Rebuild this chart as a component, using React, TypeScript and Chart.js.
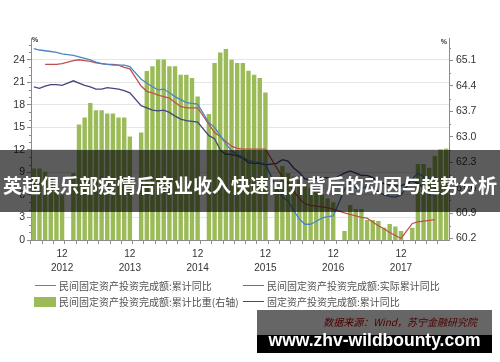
import React, { useEffect, useRef } from 'react';
import { Chart, registerables } from 'chart.js';

Chart.register(...registerables);

// Monthly categories, Jul 2012 – Aug 2018 (January has no release, so it stays empty)
const START_YEAR = 2012;
const START_MONTH = 7;
const MONTH_COUNT = 74;
const MONTHS: string[] = [];
for (let i = 0; i < MONTH_COUNT; i++) {
  const m = START_MONTH - 1 + i;
  MONTHS.push(`${START_YEAR + Math.floor(m / 12)}-${String((m % 12) + 1).padStart(2, '0')}`);
}

const LEFT_TICKS = [0, 3, 6, 9, 12, 15, 18, 21, 24];
const RIGHT_TICKS = [60.2, 60.9, 61.6, 62.3, 63.0, 63.7, 64.4, 65.1];

// 民间固定资产投资完成额:累计比重(右轴), %
const PRIVATE_SHARE = [
  62.13, 62.13, 62.04, 61.85, 61.6, 61.4,
  null, 62.0, 63.34, 63.53, 63.93, 63.73, 63.73, 63.64, 63.64, 63.53, 63.53, 63.01,
  null, 63.12, 64.81, 64.94, 65.13, 65.13, 64.94, 64.94, 64.71, 64.71, 64.62, 64.11,
  null, 63.63, 65.03, 65.32, 65.42, 65.12, 65.03, 65.03, 64.82, 64.71, 64.62, 64.22,
  null, 61.6, 62.2, 62.0, 61.9, 61.8, 61.7, 61.6, 61.5, 61.4, 61.3, 61.2,
  null, 60.41, 61.12, 61.01, 61.01, 60.71, 60.71, 60.68, 60.5, 60.6, 60.53, 60.41,
  null, 60.5, 62.25, 62.25, 62.15, 62.47, 62.66, 62.68,
];

// 民间固定资产投资完成额:累计同比, %
const PRIVATE_YOY = [
  25.5, 25.3, 25.2, 25.1, 25.0, 24.8,
  null, 24.6, 24.4, 24.2, 24.0, 23.7, 23.5, 23.4, 23.3, 23.3, 23.3, 23.1,
  null, 21.4, 20.9, 20.4, 20.0, 20.1, 19.6, 19.1, 18.7, 18.3, 18.2, 18.1,
  null, 15.6, 15.0, 13.9, 12.8, 11.9, 11.4, 11.0, 10.6, 10.4, 10.3, 10.1,
  null, 6.9, 5.7, 5.2, 3.9, 2.8, 2.1, 2.1, 2.5, 2.9, 3.1, 3.2,
  null, 6.7, 7.7, 6.9, 6.8, 7.2, 6.9, 6.4, 6.0, 5.8, 5.7, 6.0,
  null, 8.1, 8.9, 8.4, 8.1, 8.4, null, null,
];

// 民间固定资产投资完成额:实际累计同比, %
const PRIVATE_REAL_YOY = [
  null, null, 23.4, 23.4, 23.4, 23.5,
  null, 23.9, 24.0, 23.9, 23.8, 23.6, 23.5, 23.4, 23.4, 23.3, 23.0, 22.8,
  null, 20.5, 19.8, 19.6, 19.3, 19.1, 18.9, 18.3, 17.8, 17.6, 17.6, 17.6,
  null, 15.4, 14.3, 13.8, 13.1, 12.5, 12.2, 12.1, 12.1, 12.1, 12.1, 12.1,
  null, 9.6, 8.4, 7.6, 6.5, 5.5, 4.8, 4.6, 4.5, 4.4, 4.3, 4.1,
  null, 3.6, 3.4, 3.2, 3.0, 2.9, 2.4, 1.9, 1.5, 1.0, 0.6, 0.2,
  null, 2.2, 2.4, 2.5, 2.6, 2.7, null, null,
];

// 固定资产投资完成额:累计同比, %
const TOTAL_YOY = [
  20.4, 20.2, 20.5, 20.7, 20.7, 20.6,
  null, 21.2, 20.9, 20.6, 20.4, 20.1, 20.1, 20.3, 20.2, 20.1, 19.9, 19.6,
  null, 17.9, 17.6, 17.3, 17.2, 17.3, 17.0, 16.5, 16.1, 15.9, 15.8, 15.7,
  null, 13.9, 13.5, 12.0, 11.4, 11.4, 11.2, 10.9, 10.3, 10.2, 10.2, 10.0,
  null, 10.2, 10.7, 10.5, 9.6, 9.0, 8.1, 8.1, 8.2, 8.3, 8.3, 8.1,
  null, 8.9, 9.2, 8.9, 8.6, 8.6, 8.3, 7.8, 7.5, 7.3, 7.2, 7.2,
  null, 7.9, 7.5, 7.0, 6.1, 6.0, null, null,
];

const GREEN = '#9bbb59';
const BLUE = '#4a86c5';
const RED = '#c0504d';
const NAVY = '#45477c';
const AXIS = '#8c8c8c';
const LABEL = '#333333';

const FONT = '"Liberation Sans", Arial, sans-serif';
const CJK = '"Noto Sans CJK SC", "Noto Sans", sans-serif';

// minor ticks on both value axes and the "%" unit marks at their tops
const axisExtras = {
  id: 'axisExtras',
  afterDraw(chart: any) {
    const { ctx, chartArea } = chart;
    const y = chart.scales.y;
    const y1 = chart.scales.y1;
    ctx.save();
    ctx.strokeStyle = AXIS;
    ctx.lineWidth = 1;
    ctx.beginPath();
    for (let v = 1; v < y.max; v++) {
      if (v % 3 === 0) continue;
      const py = Math.round(y.getPixelForValue(v)) + 0.5;
      ctx.moveTo(chartArea.left - 2, py);
      ctx.lineTo(chartArea.left, py);
    }
    for (const t of RIGHT_TICKS) {
      const v = t + 0.35;
      if (v > y1.max) continue;
      const py = Math.round(y1.getPixelForValue(v)) + 0.5;
      ctx.moveTo(chartArea.right, py);
      ctx.lineTo(chartArea.right + 2, py);
    }
    ctx.stroke();
    ctx.fillStyle = LABEL;
    ctx.font = `bold 7px ${FONT}`;
    ctx.textBaseline = 'top';
    ctx.textAlign = 'left';
    ctx.fillText('%', chartArea.left + 1, chartArea.top - 1);
    ctx.textAlign = 'right';
    ctx.fillText('%', chartArea.right - 2, chartArea.top + 1);
    ctx.restore();
  },
};

function LegendLine({ x, y, color }: { x: number; y: number; color: string }) {
  return (
    <div style={{ position: 'absolute', left: x, top: y, width: 21, height: 0, borderTop: `1.3px solid ${color}` }} />
  );
}

function LegendText({ x, y, text }: { x: number; y: number; text: string }) {
  return (
    <div
      style={{
        position: 'absolute', left: x, top: y - 8, height: 16, lineHeight: '16px',
        fontFamily: CJK, fontSize: 10, color: '#505050', whiteSpace: 'nowrap',
      }}
    >
      {text}
    </div>
  );
}

export default function App() {
  const canvasRef = useRef<HTMLCanvasElement | null>(null);

  useEffect(() => {
    const canvas = canvasRef.current;
    if (!canvas) return;
    Chart.defaults.font.family = FONT;
    const chart = new Chart(canvas, {
      type: 'bar',
      data: {
        labels: MONTHS,
        datasets: [
          {
            type: 'line',
            label: '民间固定资产投资完成额:累计同比',
            data: PRIVATE_YOY,
            yAxisID: 'y',
            borderColor: BLUE,
            borderWidth: 1.3,
            pointRadius: 0,
            spanGaps: true,
            tension: 0,
            order: 1,
          },
          {
            type: 'line',
            label: '民间固定资产投资完成额:实际累计同比',
            data: PRIVATE_REAL_YOY,
            yAxisID: 'y',
            borderColor: RED,
            borderWidth: 1.3,
            pointRadius: 0,
            spanGaps: true,
            tension: 0,
            order: 1,
          },
          {
            type: 'line',
            label: '固定资产投资完成额:累计同比',
            data: TOTAL_YOY,
            yAxisID: 'y',
            borderColor: NAVY,
            borderWidth: 1.3,
            pointRadius: 0,
            spanGaps: true,
            tension: 0,
            order: 1,
          },
          {
            type: 'bar',
            label: '民间固定资产投资完成额:累计比重(右轴)',
            data: PRIVATE_SHARE,
            yAxisID: 'y1',
            backgroundColor: GREEN,
            borderWidth: 0,
            barPercentage: 1,
            categoryPercentage: 0.78,
            order: 10,
          },
        ],
      } as any,
      options: {
        responsive: false,
        animation: false,
        layout: { padding: { top: 38, bottom: 82, left: 0, right: 0 } },
        plugins: {
          legend: { display: false },
          tooltip: { enabled: false },
          title: { display: false },
        },
        scales: {
          x: {
            type: 'category',
            offset: true,
            grid: {
              offset: true,
              drawOnChartArea: false,
              drawTicks: true,
              tickLength: 4,
              tickColor: (c: any) => (c.index % 2 === 0 ? AXIS : 'rgba(0,0,0,0)'),
            },
            border: { color: AXIS },
            ticks: {
              autoSkip: false,
              maxRotation: 0,
              minRotation: 0,
              padding: 3,
              color: LABEL,
              font: { size: 10, family: FONT, lineHeight: 1.4 },
              callback: (_v: any, i: number) =>
                MONTHS[i].endsWith('-12') ? ['12', MONTHS[i].slice(0, 4)] : '',
            },
            afterFit: (s: any) => {
              s.height = 40;
            },
          },
          y: {
            position: 'left',
            min: 0,
            max: 26.9,
            afterBuildTicks: (s: any) => {
              s.ticks = LEFT_TICKS.map((v) => ({ value: v }));
            },
            grid: { color: '#e6e6e6', tickColor: AXIS, tickLength: 4, drawTicks: true },
            border: { color: AXIS },
            ticks: { color: LABEL, padding: 2, font: { size: 10.5, family: FONT } },
            afterFit: (s: any) => {
              s.width = 31;
            },
          },
          y1: {
            position: 'right',
            min: 60.16,
            max: 65.72,
            afterBuildTicks: (s: any) => {
              s.ticks = RIGHT_TICKS.map((v) => ({ value: v }));
            },
            grid: { drawOnChartArea: false, tickColor: AXIS, tickLength: 4, drawTicks: true },
            border: { color: AXIS },
            ticks: {
              color: LABEL,
              padding: 3,
              font: { size: 10.5, family: FONT },
              callback: (v: any) => Number(v).toFixed(1),
            },
            afterFit: (s: any) => {
              s.width = 51;
            },
          },
        },
      } as any,
      plugins: [axisExtras],
    });
    return () => chart.destroy();
  }, []);

  return (
    <div style={{ position: 'absolute', left: 0, top: 0, width: 500, height: 362, background: '#fff', overflow: 'hidden' }}>
      <canvas ref={canvasRef} width={500} height={362} style={{ display: 'block', width: 500, height: 362 }} />

      <LegendLine x={35} y={285} color={BLUE} />
      <LegendText x={59} y={285.5} text="民间固定资产投资完成额:累计同比" />
      <LegendLine x={243} y={285} color={RED} />
      <LegendText x={267} y={285.5} text="民间固定资产投资完成额:实际累计同比" />
      <div style={{ position: 'absolute', left: 34, top: 297, width: 22, height: 10, background: GREEN }} />
      <LegendText x={59} y={301.5} text="民间固定资产投资完成额:累计比重(右轴)" />
      <LegendLine x={243} y={301} color={NAVY} />
      <LegendText x={267} y={301.5} text="固定资产投资完成额:累计同比" />

      <div
        style={{
          position: 'absolute', right: 23, top: 314, fontFamily: CJK, fontSize: 10, fontStyle: 'italic',
          color: '#c00000', whiteSpace: 'nowrap', lineHeight: '16px',
        }}
      >
        数据来源：Wind，苏宁金融研究院
      </div>

      <div
        style={{
          position: 'absolute', left: 0, top: 150, width: 500, height: 62, background: 'rgba(0,0,0,0.64)',
          color: '#fff', fontFamily: CJK, fontWeight: 700, fontSize: 19, textAlign: 'center',
          lineHeight: '62px', whiteSpace: 'nowrap', paddingTop: 4, boxSizing: 'border-box',
        }}
      >
        英超俱乐部疫情后商业收入快速回升背后的动因与趋势分析
      </div>

      <div
        style={{
          position: 'absolute', left: 257, top: 310, width: 235, height: 43,
          background: 'linear-gradient(to bottom, rgba(0,0,0,0.6) 0px, rgba(0,0,0,0.6) 25px, #000 25px, #000 43px)',
          color: '#fff', fontFamily: FONT, fontWeight: 700, fontSize: 17.5, textAlign: 'center',
          lineHeight: '20px', paddingTop: 20, boxSizing: 'border-box', whiteSpace: 'nowrap',
        }}
      >
        www.zhv-wildbounty.com
      </div>
    </div>
  );
}
